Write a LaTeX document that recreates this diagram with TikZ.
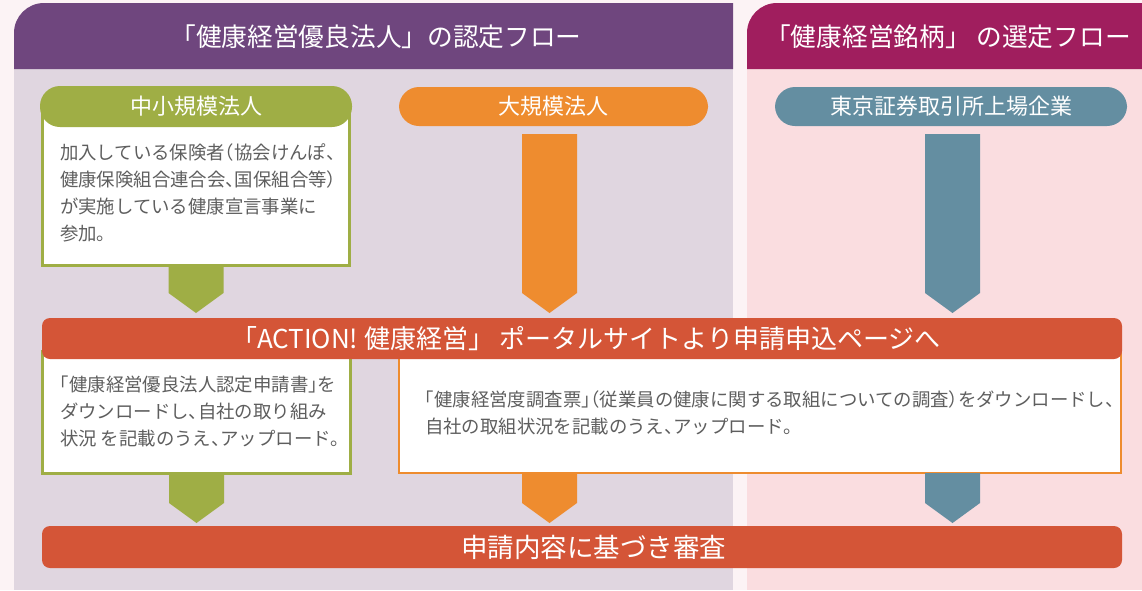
\documentclass[tikz,border=0pt]{standalone}
\usepackage{fontspec}
\setmainfont{Noto Sans CJK JP}
\newfontfamily\bodyfont[RawFeature=+halt]{Noto Sans CJK JP}
\usetikzlibrary{calc}
\definecolor{bgc}{HTML}{FCF3F5}
\definecolor{hdrL}{HTML}{6F467E}
\definecolor{bodyL}{HTML}{E0D6E0}
\definecolor{hdrR}{HTML}{A01E5E}
\definecolor{bodyR}{HTML}{FADDE0}
\definecolor{grn}{HTML}{9FAE45}
\definecolor{org}{HTML}{EE8C2F}
\definecolor{tealc}{HTML}{648EA1}
\definecolor{barc}{HTML}{D45537}
\definecolor{txtc}{HTML}{5E5E5E}
\newcommand{\blkarrow}[3]{\fill[#1] let \p1=(#2), \p2=(#3) in (\x1-27.5pt,\y1) -- (\x1+27.5pt,\y1) -- (\x1+27.5pt,\y2+20pt) -- (\x1,\y2) -- (\x1-27.5pt,\y2+20pt) -- cycle;}
\begin{document}
\begin{tikzpicture}[x=1pt,y=-1pt,
  every node/.style={outer sep=0pt, inner sep=0pt},
  hdrtext/.style={text=white, font=\fontsize{25.7}{28}\selectfont},
  pill/.style={rounded corners=20pt, text=white, font=\fontsize{22}{24}\selectfont},
  frame/.style={fill=white, draw=#1},
  bar/.style={fill=barc, rounded corners=8pt, minimum width=1080pt},
  bartext/.style={text=white},
  bodytext/.style={text=txtc, align=left, anchor=north west, font=\bodyfont\fontsize{18.4}{27}\selectfont}]
\useasboundingbox (0,0) rectangle (1142,590);
\fill[bgc] (0,0) rectangle (1142,590);
% left panel
\fill[bodyL] (14,69) rectangle (733,590);
\fill[hdrL] (14,69) [rounded corners=30pt] -- (14,3) [sharp corners] -- (733,3) -- (733,69) -- cycle;
% right panel
\fill[bodyR] (747,69) rectangle (1142,590);
\fill[hdrR] (747,69) [rounded corners=30pt] -- (747,3) [sharp corners] -- (1142,3) -- (1142,69) -- cycle;
\node[hdrtext] (titleL) at (376,36.5) {「健康経営優良法人」の認定フロー};
\node[hdrtext] (titleR) at (948,36.5) {「健康経営銘柄」 の選定フロー};
% top boxes
\node[frame=grn, line width=3pt, minimum width=307pt, minimum height=164pt] (smebox) at (196,183.5) {};
\node[pill, fill=grn, minimum width=312pt, minimum height=41pt] (sme) at (196,106.5) {中小規模法人};
\node[pill, fill=org, minimum width=309pt, minimum height=39pt] (large) at (553.5,106.5) {大規模法人};
\node[pill, fill=tealc, minimum width=352pt, minimum height=39pt] (tse) at (951,106.5) {東京証券取引所上場企業};
\node[bodytext] (smetext) at (60,144) {加入している保険者（協会けんぽ、\\健康保険組合連合会、国保組合等）\\が実施している健康宣言事業に\\参加。};
% lower boxes
\node[frame=grn, line width=3pt, minimum width=308pt, minimum height=122pt] (applybox) at (196.5,412.5) {};
\node[frame=org, line width=2pt, minimum width=722pt, minimum height=122pt] (surveybox) at (760,412) {};
\node[bodytext] (applytext) at (60,376) {「健康経営優良法人認定申請書」を\\ダウンロードし、自社の取り組み\\状況 を記載のうえ、アップロード。};
\node[bodytext] (surveytext) at (425,391) {「健康経営度調査票」（従業員の健康に関する取組についての調査）をダウンロードし、\\自社の取組状況を記載のうえ、アップロード。};
% bars
\node[bar, minimum height=41pt] (action) at (582,338.5) {};
\node[bartext, font=\fontsize{26}{28}\selectfont] (actiontext) at (586,338.5) {「ACTION! 健康経営」 ポータルサイトより申請申込ページへ};
\node[bar, minimum height=42pt] (review) at (582,547) {};
\node[bartext, font=\fontsize{26.5}{30}\selectfont] (reviewtext) at (593.5,547) {申請内容に基づき審査};
% arrows
\coordinate (g1a) at (smebox.south);
\coordinate (g1b) at ($(smebox.south |- action.north)+(0,-5)$);
\coordinate (o1a) at ($(large.south)+(-4,8)$);
\coordinate (o1b) at ($(o1a |- action.north)+(0,-5)$);
\coordinate (t1a) at ($(tse.south)+(1.5,8)$);
\coordinate (t1b) at ($(t1a |- action.north)+(0,-5)$);
\coordinate (g2a) at (applybox.south);
\coordinate (g2b) at ($(g2a |- review.north)+(0,-3)$);
\coordinate (o2a) at (o1a |- surveybox.south);
\coordinate (o2b) at ($(o2a |- review.north)+(0,-3)$);
\coordinate (t2a) at (t1a |- surveybox.south);
\coordinate (t2b) at ($(t2a |- review.north)+(0,-3)$);
\blkarrow{grn}{g1a}{g1b}
\blkarrow{org}{o1a}{o1b}
\blkarrow{tealc}{t1a}{t1b}
\blkarrow{grn}{g2a}{g2b}
\blkarrow{org}{o2a}{o2b}
\blkarrow{tealc}{t2a}{t2b}
\end{tikzpicture}
\end{document}
